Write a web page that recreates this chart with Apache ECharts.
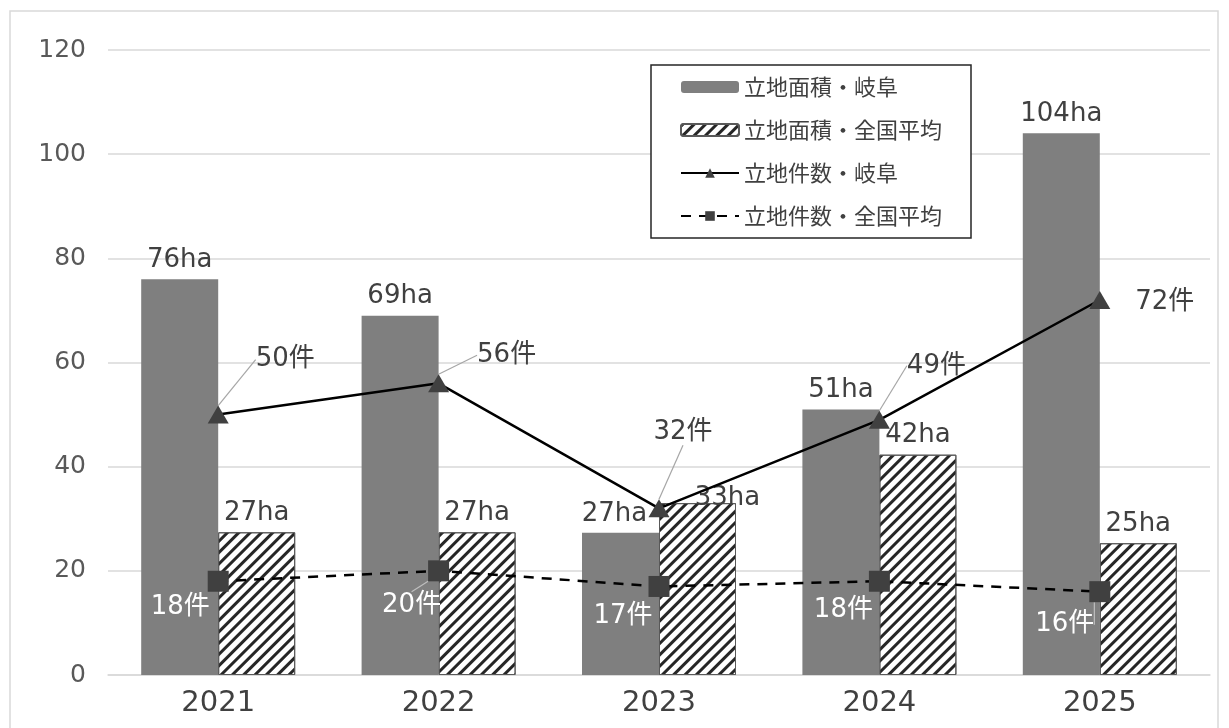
<!DOCTYPE html>
<html>
<head>
<meta charset="utf-8">
<script src="https://cdn.jsdelivr.net/npm/echarts@6/dist/echarts.min.js"></script>
<style>
html,body{margin:0;padding:0;background:#fff;}
#main{width:1229px;height:728px;}
</style>
</head>
<body>
<div id="main"></div>
<script>
var years = ['2021', '2022', '2023', '2024', '2025'];
var areaGifu = [76, 69, 27.3, 51, 104];
var areaNational = [27.4, 27.4, 33, 42.3, 25.3];
var countGifu = [50, 56, 32, 49, 72];
var countNational = [18, 20, 17, 18, 16];
var yTicks = [0, 20, 40, 60, 80, 100, 120];

var FONT = '"DejaVu Sans", "Noto Sans CJK JP", sans-serif';
var CJK = '"Noto Sans CJK JP", "Noto Sans", sans-serif';

var gifuCountOffsets = [[67, -55], [68, -28], [24, -76], [57, -54], [65, 2]];
var gifuCountLeader = [true, true, true, true, false];
var natCountOffsets = [[-38, 26], [-27, 34], [-36, 30], [-36, 29], [-35, 33]];
var natCountLeader = [false, true, false, false, true];

var chart = echarts.init(document.getElementById('main'));

function lineData(values, leaders) {
  return values.map(function (v, i) {
    return { value: v, labelLine: { show: leaders[i] } };
  });
}

var barLabel = {
  show: true, position: 'top', distance: 6,
  fontSize: 26, color: '#404040', fontFamily: FONT,
  formatter: function (p) { return Math.round(p.value) + 'ha'; }
};

var option = {
  backgroundColor: '#fff',
  animation: false,
  textStyle: { fontFamily: FONT },
  graphic: [{
    type: 'rect',
    shape: { x: 10, y: 11, width: 1208, height: 740 },
    style: { fill: 'none', stroke: '#d9d9d9', lineWidth: 1.5 },
    silent: true, z: -10
  }],
  grid: { left: 108, right: 19, top: 50, bottom: 53, containLabel: false },
  legend: {
    orient: 'vertical',
    left: 651, top: 65,
    padding: [11, 29, 11, 29],
    itemGap: 21,
    itemWidth: 58, itemHeight: 12,
    backgroundColor: '#fff',
    borderColor: '#262626', borderWidth: 1.5,
    textStyle: { fontSize: 22, color: '#404040', fontFamily: CJK },
    data: ['立地面積・岐阜', '立地面積・全国平均', '立地件数・岐阜', '立地件数・全国平均']
  },
  xAxis: {
    type: 'category',
    data: years,
    axisLine: { show: true, lineStyle: { color: '#d9d9d9', width: 1.5 } },
    axisTick: { show: false },
    axisLabel: { fontSize: 29, color: '#404040', margin: 14, fontFamily: FONT }
  },
  yAxis: {
    type: 'value',
    min: yTicks[0], max: yTicks[yTicks.length - 1], interval: 20,
    axisLine: { show: false },
    axisTick: { show: false },
    axisLabel: { fontSize: 25, color: '#595959', margin: 22, fontFamily: FONT },
    splitLine: { lineStyle: { color: '#d9d9d9', width: 1.5 } }
  },
  series: [
    {
      name: '立地面積・岐阜',
      type: 'bar',
      data: areaGifu,
      barWidth: 77,
      barGap: '0%',
      itemStyle: { color: '#7f7f7f' },
      label: barLabel,
      labelLayout: function (p) {
        if (p.dataIndex === 2) return { dx: -6 };
        return {};
      },
      z: 2
    },
    {
      name: '立地面積・全国平均',
      type: 'bar',
      data: areaNational,
      barWidth: 77,
      barGap: '0%',
      itemStyle: {
        color: '#ffffff',
        borderColor: '#595959', borderWidth: 1,
        decal: {
          symbol: 'rect',
          symbolSize: 1,
          color: '#262626',
          dashArrayX: [1, 0],
          dashArrayY: [3, 5],
          rotation: -Math.PI / 4
        }
      },
      label: barLabel,
      labelLayout: function (p) {
        if (p.dataIndex === 2) return { dx: 30, dy: 14 };
        return {};
      },
      z: 2
    },
    {
      name: '立地件数・岐阜',
      type: 'line',
      data: lineData(countGifu, gifuCountLeader),
      symbol: 'triangle',
      symbolSize: [21, 18],
      lineStyle: { color: '#000', width: 2.5 },
      itemStyle: { color: '#404040' },
      label: {
        show: true, position: 'inside',
        fontSize: 26, color: '#404040', fontFamily: FONT,
        formatter: '{c}件'
      },
      labelLine: { show: true, lineStyle: { color: '#a6a6a6', width: 1.2 } },
      labelLayout: function (p) {
        var o = gifuCountOffsets[p.dataIndex];
        return { dx: o[0], dy: o[1] };
      },
      z: 5
    },
    {
      name: '立地件数・全国平均',
      type: 'line',
      data: lineData(countNational, natCountLeader),
      symbol: 'rect',
      symbolSize: 21,
      lineStyle: { color: '#000', width: 2.5, type: [10, 8] },
      itemStyle: { color: '#404040' },
      label: {
        show: true, position: 'inside',
        fontSize: 26, color: '#ffffff', fontFamily: FONT,
        formatter: '{c}件'
      },
      labelLine: { show: true, lineStyle: { color: '#bfbfbf', width: 1.2 } },
      labelLayout: function (p) {
        var o = natCountOffsets[p.dataIndex];
        return { dx: o[0], dy: o[1] };
      },
      z: 5
    }
  ]
};
chart.setOption(option);
</script>
</body>
</html>
